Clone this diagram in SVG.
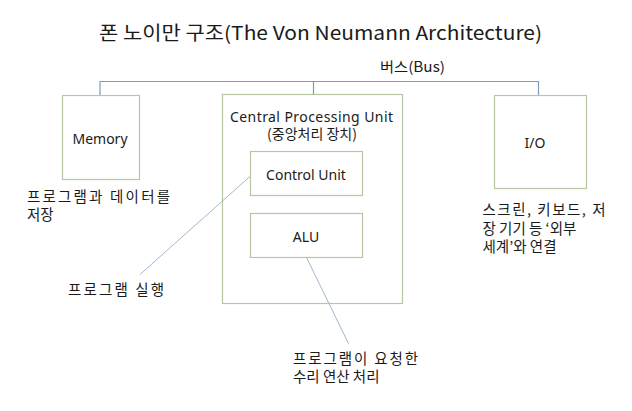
<svg xmlns="http://www.w3.org/2000/svg" width="632" height="411" viewBox="0 0 632 411">
<style>
.box{fill:none;stroke:#b7c7a3;stroke-width:1.2}
.bus{fill:none;stroke:#7f9bb6;stroke-width:1.2}
.lead{fill:none;stroke:#a3b8cc;stroke-width:1}
text{font-family:"Noto Sans","Noto Sans CJK KR",sans-serif;fill:#1a1a1a}
.ko{font-family:"Noto Sans CJK KR","Noto Sans",sans-serif;font-size:14.5px}
.en{font-size:14px}
</style>
<rect width="632" height="411" fill="#ffffff"/>
<text id="title" x="99" y="40" font-size="19" textLength="443" lengthAdjust="spacingAndGlyphs" style="font-family:'Noto Sans CJK KR','Noto Sans',sans-serif">폰 노이만 구조(The Von Neumann Architecture)</text>
<g id="memory">
<rect class="box" x="62.5" y="95.5" width="77" height="84"/>
<text class="en" x="100" y="144" text-anchor="middle">Memory</text>
<text class="ko" x="27" y="201.5" textLength="143" lengthAdjust="spacing">프로그램과 데이터를</text>
<text class="ko" x="27" y="219.5">저장</text>
</g>
<g id="cpu">
<rect class="box" x="222.5" y="94.5" width="180" height="209"/>
<text class="en" x="311.5" y="121.5" text-anchor="middle" textLength="163" lengthAdjust="spacing">Central Processing Unit</text>
<text class="ko" x="312" y="139" text-anchor="middle" style="font-size:14px">(중앙처리 장치)</text>
</g>
<g id="control-unit">
<rect class="box" x="250.5" y="151.5" width="112" height="44"/>
<text class="en" x="306" y="180" text-anchor="middle">Control Unit</text>
<text class="ko" x="68" y="295" textLength="96" lengthAdjust="spacing">프로그램 실행</text>
</g>
<g id="alu">
<rect class="box" x="250.5" y="213.5" width="112" height="44"/>
<text class="en" x="306" y="242" text-anchor="middle">ALU</text>
<text class="ko" x="293" y="363.5" textLength="125" lengthAdjust="spacing">프로그램이 요청한</text>
<text class="ko" x="293" y="381.5">수리 연산 처리</text>
</g>
<g id="io">
<rect class="box" x="494.5" y="95.5" width="92" height="93"/>
<text class="en" x="535" y="148" text-anchor="middle">I/O</text>
<text class="ko" x="482.5" y="215" textLength="123" lengthAdjust="spacing">스크린, 키보드, 저</text>
<text class="ko" x="482.5" y="233.5">장 기기 등 ‘외부</text>
<text class="ko" x="482.5" y="251.5">세계’와 연결</text>
</g>
<g id="connectors">
<polyline class="bus" points="100,95 100,81.5 538.5,81.5 538.5,95"/>
<line class="bus" x1="313.5" y1="81.5" x2="313.5" y2="94.5"/>
<line class="lead" x1="250.5" y1="176" x2="140" y2="274.5"/>
<line class="lead" x1="306.5" y1="257.5" x2="348.5" y2="343.5"/>
<text x="380" y="72" textLength="65" lengthAdjust="spacingAndGlyphs" class="ko" style="font-size:14px">버스(Bus)</text>
</g>
</svg>
